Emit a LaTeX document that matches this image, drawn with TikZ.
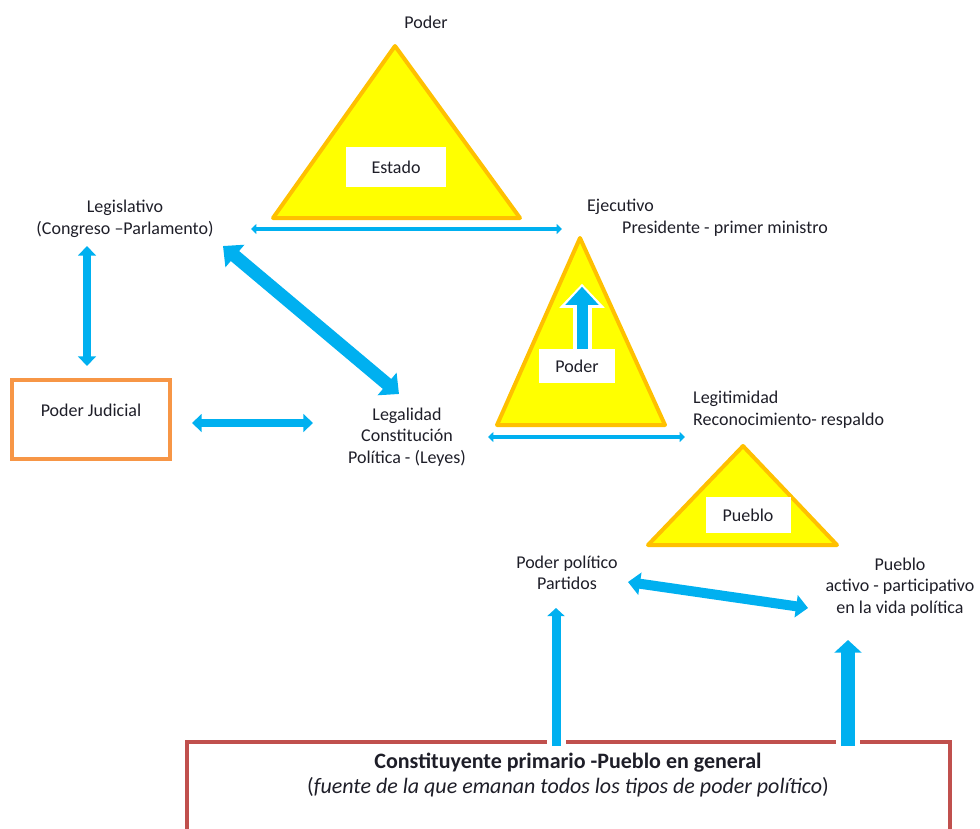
\documentclass[tikz,border=0pt]{standalone}
\usepackage{fontspec}
\setmainfont{Carlito}
\usetikzlibrary{arrows.meta, positioning, calc}
\definecolor{arrowblue}{HTML}{00B0F0}
\definecolor{trifill}{HTML}{FFFF00}
\definecolor{triedge}{HTML}{FFC000}
\definecolor{judedge}{HTML}{F79646}
\definecolor{baseedge}{HTML}{C0504D}
\definecolor{textdark}{HTML}{1E1E28}
\tikzset{
    label_text/.style={inner sep=0pt, align=center, text=textdark, font=\fontsize{18}{21.5}\selectfont},
    box_white/.style={rectangle, fill=white, inner sep=0pt, text=textdark, font=\fontsize{18}{21.5}\selectfont},
    box_judicial/.style={rectangle, draw=judedge, line width=4pt, minimum width=158pt, minimum height=79pt, text=textdark, font=\fontsize{18}{21.5}\selectfont},
    tri_yellow/.style={fill=trifill, draw=triedge, line width=4pt, line join=round},
    line_base/.style={draw=baseedge, line width=4pt},
    arrow_both/.style={draw=arrowblue, {Triangle[length=0pt 1.2, width=0pt 2.2]}-{Triangle[length=0pt 1.2, width=0pt 2.2]}},
    arrow_up/.style={draw=arrowblue, -{Triangle[length=0pt 0.9, width=0pt 1.9]}, preaction={draw=white, line width=#1, arrows=-}}
}
\begin{document}
\begin{tikzpicture}[x=1pt, y=-1pt]
    \useasboundingbox (0,0) rectangle (980,828);
    % triangles
    \draw [tri_yellow] (395,46) -- (520,218) -- (273,218) -- cycle;
    \draw [tri_yellow] (580,238) -- (665,425) -- (497,425) -- cycle;
    \draw [tri_yellow] (743,446) -- (837,545) -- (648,545) -- cycle;
    \node (podertop) [label_text] at (426,22) {Poder};
    \node (estado) [box_white, minimum width=100pt, minimum height=40pt] at (396,167) {Estado};
    \node (poderbox) [box_white, minimum width=76pt, minimum height=34pt] at (577,366) {Poder};
    \node (pueblobox) [box_white, minimum width=85pt, minimum height=36pt] at (748,515) {Pueblo};

    \node (legis) [label_text] at (125,219) {Legislativo\\(Congreso –Parlamento)};
    \node (ejec) [label_text, align=left, anchor=north west] at (587,199) {Ejecutivo\\\hspace*{35pt}Presidente - primer ministro};
    \node (judicial) [box_judicial, text depth=18pt] at (91,419) {Poder Judicial};
    \node (legal) [label_text] at (407,437) {Legalidad\\Constitución\\Política - (Leyes)};
    \node (legit) [label_text, align=left, anchor=north west] at (693,391) {Legitimidad\\Reconocimiento- respaldo};
    \node (politico) [label_text] at (567,573) {Poder político\\Partidos};
    \node (activo) [label_text] at (900,587) {Pueblo\\activo - participativo\\en la vida política};
    \node (constit) [label_text, font=\fontsize{22}{25}\selectfont] at (568,775) {\textbf{Constituyente primario -Pueblo en general}\\(\textit{fuente de la que emanan todos los tipos de poder político})};

    % base box, open at the bottom
    \draw [line_base] (187,840) |- (950,742) -- (950,840);
    \coordinate (srcL) at (556,746);
    \coordinate (srcR) at (848,746);

    \draw [arrow_both, line width=4.5pt] ([xshift=126pt,yshift=-10pt]legis.center) -- ([xshift=-25pt,yshift=-30pt]ejec.north west);
    \draw [arrow_both, line width=8pt] ([xshift=-38pt,yshift=-27pt]legis.center) -- ([xshift=-4pt,yshift=53pt]judicial.center);
    \draw [arrow_both, line width=13pt] ([xshift=98pt,yshift=-27pt]legis.center) -- ([xshift=-8pt,yshift=43pt]legal.center);
    \draw [arrow_both, line width=8pt] ([xshift=101pt,yshift=-4pt]judicial.center) -- ([xshift=-94pt,yshift=14pt]legal.center);
    \draw [arrow_both, line width=4.5pt] ([xshift=81pt]legal.center) -- ([xshift=-8pt,yshift=-46pt]legit.north west);
    \draw [arrow_both, line width=10pt] ([xshift=61pt,yshift=-9pt]politico.center) -- ([xshift=-92pt,yshift=-21pt]activo.center);
    \draw [arrow_up=19pt, line width=9pt] (srcL) -- ([xshift=-11pt,yshift=-35pt]politico.center);
    \draw [arrow_up=24pt, line width=14pt] (srcR) -- ([xshift=-52pt,yshift=-53pt]activo.center);
    \draw [draw=arrowblue, line width=11pt, -{Triangle[width=32pt, length=18pt]},
           preaction={draw=white, line width=19pt, -{Triangle[width=44pt, length=24pt]}, shorten >=-3pt}]
          ([xshift=5pt]poderbox.north) -- ([xshift=5pt,yshift=62pt]poderbox.north);
\end{tikzpicture}
\end{document}
